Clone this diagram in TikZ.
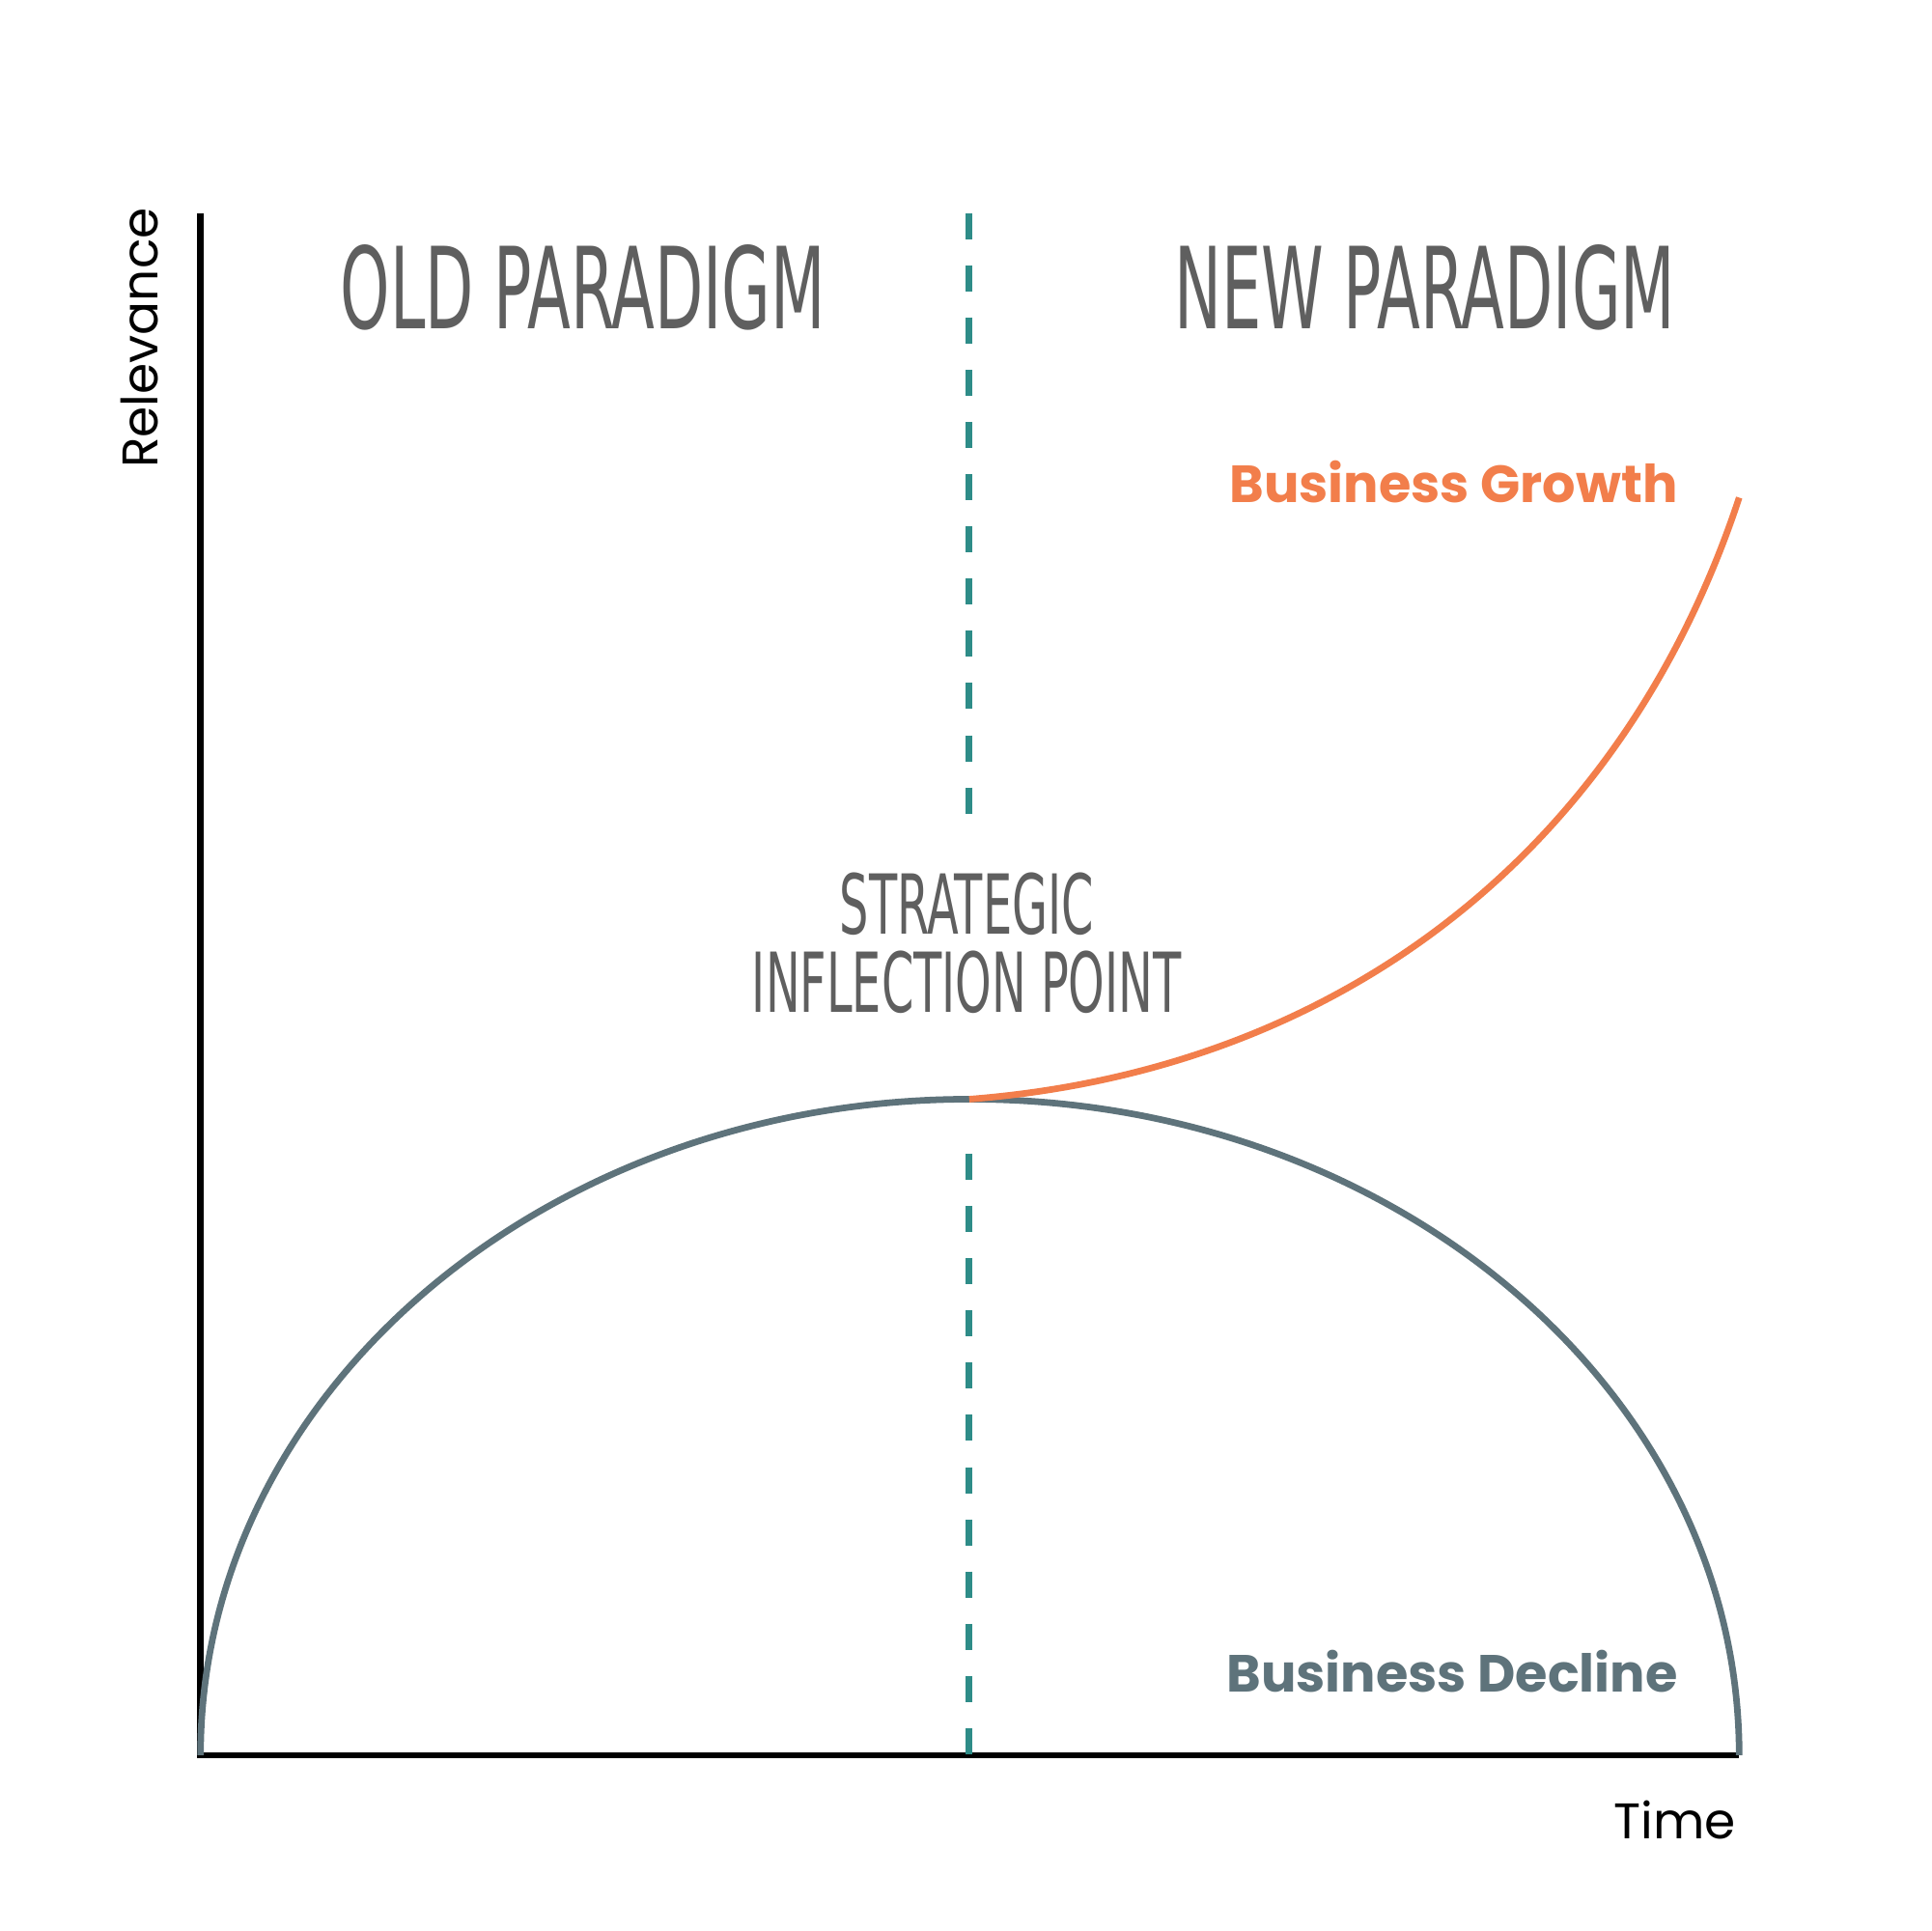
\documentclass[tikz,border=0pt]{standalone}
\usepackage{fontspec}
\setmainfont{Poppins}
\newfontfamily\titlefont{DejaVu Sans Condensed}
\usetikzlibrary{positioning}
\definecolor{slate}{HTML}{5E737B}
\definecolor{growth}{HTML}{F27E4B}
\definecolor{teal}{HTML}{2E8C88}
\definecolor{titlegray}{HTML}{5F5F5F}
\tikzset{
  paradigm/.style={font=\titlefont\fontsize{26}{26}\selectfont, text=titlegray, inner sep=0pt},
  sipstyle/.style={font=\titlefont\fontsize{19}{18}\selectfont, text=titlegray, inner sep=0pt, align=center},
  curvelabel/.style={font=\fontsize{12}{12}\selectfont\bfseries, inner sep=0pt, anchor=east},
  axislabel/.style={font=\fontsize{11.5}{11.5}\selectfont, inner sep=0pt}
}
\newcommand{\narrow}[1]{\scalebox{0.62}[1]{#1}}
\begin{document}
\begin{tikzpicture}[x=0.01cm,y=-0.01cm]
\useasboundingbox[fill=white] (0,0) rectangle (1560,1560);
% axes
\coordinate (top) at (162,172);
\coordinate (origin) at (162,1418);
\coordinate (xend) at (1405,1418);
\coordinate (peak) at (783,888);
\coordinate (gend) at (1405,402);
\draw[line width=1.5pt] (top) -- (origin) -- (xend);
% divider
\coordinate (dtop) at (783,172);
\coordinate (dmid) at (783,660);
\coordinate (dlow) at (783,932);
\coordinate (dbot) at (783,1418);
\draw[teal, line width=1.5pt, dash pattern=on 6pt off 6pt] (dtop) -- (dmid);
\draw[teal, line width=1.5pt, dash pattern=on 6pt off 6pt] (dlow) -- (dbot);
% curves
\draw[slate, line width=1.5pt] (origin) arc[start angle=180, end angle=0, x radius=621.5, y radius=-530];
\draw[growth, line width=1.5pt] (peak) .. controls (1080,865) and (1310,690) .. (gend);
% labels
\node[paradigm] (old) at (471,232) {\narrow{OLD PARADIGM}};
\node[paradigm] (new) at (1151,232) {\narrow{NEW PARADIGM}};
\node[sipstyle] (sip) at (781,762) {\narrow{STRATEGIC}\\\narrow{INFLECTION POINT}};
\node[curvelabel, text=growth] (bg) at (1356,389) {Business Growth};
\node[curvelabel, text=slate] (bd) at (1356,1350) {Business Decline};
\node[axislabel, rotate=90] (rel) at (113,273) {Relevance};
\node[axislabel, anchor=east] (time) at (1403,1470) {Time};
\end{tikzpicture}
\end{document}
